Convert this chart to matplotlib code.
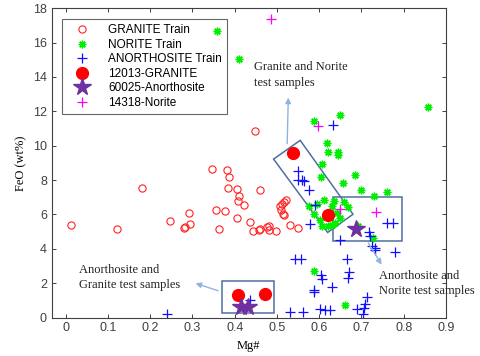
import matplotlib
matplotlib.use("Agg")
import matplotlib.pyplot as plt
from matplotlib.patches import Rectangle, Polygon

# training data (Mg#, FeO wt%)
granite_x = [0.012, 0.122, 0.18, 0.247, 0.279, 0.283, 0.291, 0.293, 0.347, 0.355,
             0.362, 0.376, 0.381, 0.386, 0.384, 0.405, 0.407, 0.411, 0.406, 0.421,
             0.435, 0.443, 0.449, 0.457, 0.461, 0.46, 0.476, 0.481, 0.48, 0.497,
             0.506, 0.512, 0.516, 0.522, 0.51, 0.514, 0.516, 0.531, 0.549]
granite_y = [5.36, 5.18, 7.54, 5.61, 5.2, 5.24, 6.1, 5.42, 8.64, 6.27,
             5.18, 6.18, 8.56, 8.2, 7.51, 7.47, 6.81, 7.05, 5.8, 6.56,
             5.58, 5.05, 10.84, 5.1, 5.14, 7.4, 5.24, 5.32, 5.08, 5.05,
             6.49, 6.6, 6.72, 6.82, 6.25, 6.04, 5.94, 5.36, 5.22]

norite_x = [0.358, 0.411, 0.588, 0.65, 0.857, 0.618, 0.622, 0.644, 0.645, 0.607,
            0.605, 0.684, 0.657, 0.7, 0.729, 0.761, 0.577, 0.595, 0.612, 0.634,
            0.658, 0.667, 0.63, 0.642, 0.65, 0.638, 0.622, 0.607, 0.603, 0.587,
            0.63, 0.693, 0.727, 0.588, 0.662]
norite_y = [16.66, 15.07, 11.46, 11.77, 12.25, 10.15, 9.62, 9.62, 9.48, 8.92,
            8.2, 8.32, 7.81, 7.42, 7.07, 7.28, 6.5, 6.62, 6.86, 6.76,
            6.7, 6.43, 6.5, 6.08, 5.79, 5.5, 5.34, 5.3, 5.69, 6.04,
            5.4, 5.3, 4.6, 2.7, 0.74]

anor_x = [0.239, 0.437, 0.531, 0.561, 0.542, 0.556, 0.549, 0.549, 0.559, 0.565,
          0.575, 0.589, 0.579, 0.633, 0.65, 0.718, 0.721, 0.761, 0.774, 0.724,
          0.731, 0.733, 0.78, 0.665, 0.604, 0.607, 0.671, 0.667, 0.63, 0.587,
          0.588, 0.713, 0.709, 0.706, 0.69, 0.703, 0.601, 0.614, 0.625]
anor_y = [0.22, 1.05, 0.33, 0.33, 3.42, 3.42, 8.54, 8.02, 8.02, 7.92,
          7.44, 6.53, 5.45, 11.22, 4.5, 4.95, 4.77, 5.48, 5.5, 4.14,
          4.02, 3.94, 3.8, 3.4, 2.45, 2.24, 2.66, 2.29, 1.77, 1.62,
          1.5, 1.19, 0.8, 0.56, 0.49, 0.2, 0.47, 0.45, 0.43]

# test samples
g12013_x = [0.538, 0.622, 0.407, 0.471]
g12013_y = [9.57, 5.98, 1.32, 1.36]
a60025_x = [0.687, 0.415, 0.432]
a60025_y = [5.15, 0.6, 0.6]
n14318_x = [0.487, 0.598, 0.649, 0.735]
n14318_y = [17.38, 11.13, 6.3, 6.12]

serif = ['Liberation Serif', 'DejaVu Serif']
plt.rcParams['font.family'] = ['Liberation Sans', 'DejaVu Sans']

fig = plt.figure(figsize=(4.8, 3.56), dpi=100)
ax = fig.add_axes([0.108, 0.108, 0.821, 0.869])

ax.plot(granite_x, granite_y, 'o', mfc='none', mec='#ff2020', ms=5.2, mew=0.8,
        linestyle='none', label='GRANITE Train')
ax.plot(norite_x, norite_y, marker=(8, 2, 0), color='#00ee00', ms=5.5, mew=1.0,
        linestyle='none', label='NORITE Train')
ax.plot(anor_x, anor_y, '+', color='#1010ff', ms=7.5, mew=0.9,
        linestyle='none', label='ANORTHOSITE Train')
ax.plot(g12013_x, g12013_y, 'o', color='#ff0000', ms=8.5,
        linestyle='none', label='12013-GRANITE')
ax.plot(a60025_x, a60025_y, '*', color='#7030a0', ms=13,
        linestyle='none', label='60025-Anorthosite')
ax.plot(n14318_x, n14318_y, '+', color='#ff00ff', ms=7.5, mew=0.9,
        linestyle='none', label='14318-Norite')

box_col = '#4f6f9f'
ax.add_patch(Rectangle((0.37, 0.29), 0.123, 1.85, fill=False, ec=box_col, lw=1.1))
ax.add_patch(Rectangle((0.633, 4.47), 0.162, 2.52, fill=False, ec=box_col, lw=1.1))
ax.add_patch(Polygon([(0.555, 10.31), (0.492, 9.22), (0.62, 4.95), (0.68, 6.01)],
                     closed=True, fill=False, ec=box_col, lw=1.1))

arrow = dict(arrowstyle='-|>', color='#8fb4e0', lw=1.0, mutation_scale=8)
ax.annotate('', xy=(0.527, 12.96), xytext=(0.524, 9.96), arrowprops=arrow)
ax.annotate('', xy=(0.301, 2.04), xytext=(0.367, 1.51), arrowprops=arrow)
ax.annotate('', xy=(0.751, 2.94), xytext=(0.713, 4.48), arrowprops=arrow)

ax.text(0.446, 14.9, 'Granite and Norite\ntest samples', family=serif, fontsize=9,
        va='top', ha='left', color='#222222', linespacing=1.35)
ax.text(0.031, 3.1, 'Anorthosite and\nGranite test samples', family=serif, fontsize=9,
        va='top', ha='left', color='#222222', linespacing=1.35)
ax.text(0.741, 2.75, 'Anorthosite and\nNorite test samples', family=serif, fontsize=9,
        va='top', ha='left', color='#222222', linespacing=1.35)

ax.set_xlim(-0.033, 0.9)
ax.set_ylim(0, 18)
ax.set_xticks([0, 0.1, 0.2, 0.3, 0.4, 0.5, 0.6, 0.7, 0.8, 0.9])
ax.set_xticklabels(['0', '0.1', '0.2', '0.3', '0.4', '0.5', '0.6', '0.7', '0.8', '0.9'])
ax.set_yticks(range(0, 19, 2))
ax.tick_params(direction='in', top=True, right=True, labelsize=9,
               colors='#404040', length=3, width=0.7)
for s in ax.spines.values():
    s.set_color('#404040')
    s.set_linewidth(0.8)

ax.set_xlabel('Mg#', family=serif, fontsize=9, labelpad=4)
ax.set_ylabel('FeO (wt%)', family=serif, fontsize=9, labelpad=4)

leg = ax.legend(loc='upper left', bbox_to_anchor=(0.01, 0.985), fontsize=8.5,
                frameon=True, fancybox=False, edgecolor='#404040',
                labelspacing=0.22, handletextpad=0.9, borderpad=0.45,
                handlelength=2.6, numpoints=1)
leg.get_frame().set_linewidth(0.8)
leg.get_frame().set_facecolor('none')

fig.savefig('out.png', dpi=100, facecolor='white')
